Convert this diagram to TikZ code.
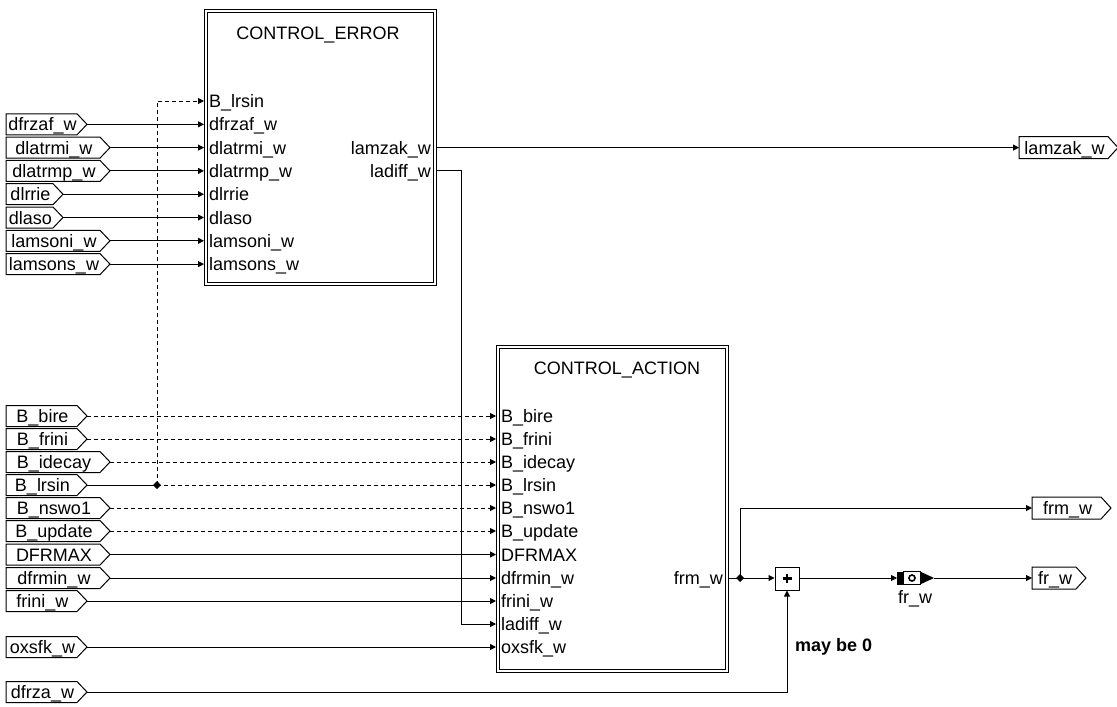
\documentclass[tikz,border=0pt]{standalone}
\usepackage{fontspec}
\setmainfont{Liberation Sans}
\usetikzlibrary{arrows.meta}
\tikzset{
  wire/.style={line width=1pt, -{Triangle[length=6pt,width=6pt]}},
  plainwire/.style={line width=1pt},
  dwire/.style={wire, dash pattern=on 4pt off 3pt},
  flagline/.style={draw, line width=1pt},
  lbl/.style={font=\fontsize{18}{20}\selectfont, inner sep=0pt, text height=13pt, text depth=0pt},
  blk/.style={draw, line width=1pt},
  jdot/.style={fill=black, draw=none},
}
\newcommand{\InFlag}[4]{% name, y, tipx, text
  \draw[flagline] (6,{#2-10.5}) -- ({#3-10},{#2-10.5}) -- (#3,#2) -- ({#3-10},{#2+10.5}) -- (6,{#2+10.5}) -- cycle;
  \node[lbl] (t#1) at ({(6+#3-10)/2+1},#2) {#4};
  \coordinate (#1) at (#3,#2);}
\newcommand{\OutFlag}[5]{% name, y, leftx, rectright, text
  \draw[flagline] (#3,{#2-11}) -- (#4,{#2-11}) -- ({#4+10},#2) -- (#4,{#2+11}) -- (#3,{#2+11}) -- cycle;
  \node[lbl] (t#1) at ({(#3+#4)/2+1},#2) {#5};
  \coordinate (#1) at (#3,#2);}
\begin{document}
\begin{tikzpicture}[x=1pt,y=-1pt]
\useasboundingbox (0,0) rectangle (1117,707);

% ---------- CONTROL_ERROR block
\draw[blk] (204,9) rectangle (436,285);
\draw[blk] (207,12) rectangle (433,282);
\node[lbl] (ceT) at (318,33) {CONTROL\_ERROR};
\foreach \n/\y/\s in {0/101/B\_lrsin,1/124.3/dfrzaf\_w,2/147.6/dlatrmi\_w,3/170.9/dlatrmp\_w,4/194.2/dlrrie,5/217.5/dlaso,6/240.8/lamsoni\_w,7/264.1/lamsons\_w}{
  \coordinate (ce\n) at (204,\y);
  \node[lbl, anchor=west] (cel\n) at (209,\y) {\s};
}
\node[lbl, anchor=east] (ceol1) at (431,147.6) {lamzak\_w};
\node[lbl, anchor=east] (ceol2) at (431,170.9) {ladiff\_w};
\coordinate (ceo1) at (436,147.6);
\coordinate (ceo2) at (436,170.9);

% ---------- CONTROL_ACTION block
\draw[blk] (496,345) rectangle (728,672);
\draw[blk] (499,348) rectangle (725,669);
\node[lbl] (caT) at (617,368) {CONTROL\_ACTION};
\foreach \n/\y/\s in {1/416/B\_bire,2/439/B\_frini,3/462/B\_idecay,4/485/B\_lrsin,5/508/B\_nswo1,6/531/B\_update,7/554.5/DFRMAX,8/578/dfrmin\_w,9/601/frini\_w,10/624/ladiff\_w,11/647/oxsfk\_w}{
  \coordinate (ca\n) at (496,\y);
  \node[lbl, anchor=west] (cal\n) at (501,\y) {\s};
}
\node[lbl, anchor=east] (caol) at (723,578) {frm\_w};
\coordinate (cao) at (728,578);

% ---------- input flags (upper)
\InFlag{ia1}{124.3}{87}{dfrzaf\_w}
\InFlag{ia2}{147.6}{110}{dlatrmi\_w}
\InFlag{ia3}{170.9}{110}{dlatrmp\_w}
\InFlag{ia4}{194.2}{63}{dlrrie}
\InFlag{ia5}{217.5}{63}{dlaso}
\InFlag{ia6}{240.8}{110}{lamsoni\_w}
\InFlag{ia7}{264.1}{110}{lamsons\_w}
% ---------- input flags (lower)
\InFlag{ib1}{416}{87}{B\_bire}
\InFlag{ib2}{439}{87}{B\_frini}
\InFlag{ib3}{462}{110}{B\_idecay}
\InFlag{ib4}{485}{87}{B\_lrsin}
\InFlag{ib5}{508}{110}{B\_nswo1}
\InFlag{ib6}{531}{110}{B\_update}
\InFlag{ib7}{554.5}{110}{DFRMAX}
\InFlag{ib8}{578}{110}{dfrmin\_w}
\InFlag{ib9}{601}{87}{frini\_w}
\InFlag{ib10}{647}{87}{oxsfk\_w}
\InFlag{ib11}{692}{87}{dfrza\_w}

% ---------- output flags
\OutFlag{olam}{147.6}{1019}{1108}{lamzak\_w}
\OutFlag{ofrm}{508}{1032}{1101}{frm\_w}
\OutFlag{ofr}{578}{1032}{1076}{fr\_w}

% ---------- upper connections
\foreach \i in {1,...,7}{ \draw[wire] (ia\i) -- (ce\i); }
% ---------- lower connections
\foreach \i in {1,2,3,5,6}{ \draw[dwire] (ib\i) -- (ca\i); }
\foreach \i in {7,8,9}{ \draw[wire] (ib\i) -- (ca\i); }
\draw[wire] (ib10) -- (ca11);
\coordinate (dotL) at (157,485);
\draw[plainwire] (ib4) -- (dotL);
\draw[dwire] (dotL) -- (ca4);
\draw[dwire] (dotL) |- (ce0);
\fill[jdot] (dotL) +(-4,0) -- +(0,-4) -- +(4,0) -- +(0,4) -- cycle;

% ---------- outputs of CONTROL_ERROR
\draw[wire] (ceo1) -- (olam);
\coordinate (ladc) at (461,170.9);
\draw[wire] (ceo2) -- (ladc) |- (ca10);

% ---------- output part
\coordinate (j1) at (740,578);
\node[blk, minimum width=24pt, minimum height=23pt, inner sep=0pt] (sum) at (787,578.5) {};
\draw[line width=2.2pt] ([xshift=-4.5pt]sum.center) -- ([xshift=4.5pt]sum.center);
\draw[line width=2.2pt] ([yshift=-4.5pt]sum.center) -- ([yshift=4.5pt]sum.center);
\draw[plainwire] (cao) -- (j1);
\draw[wire] (j1) -- (sum.west |- j1);
\draw[wire] (j1) |- (ofrm);
\fill[jdot] (j1) +(-4,0) -- +(0,-4) -- +(4,0) -- +(0,4) -- cycle;
% message icon
\coordinate (icL) at (897,578);
\coordinate (icR) at (934,578);
\fill (897,571.5) rectangle (903,584.5);
\draw[line width=1pt] (903,571.5) rectangle (920,584.5);
\draw[line width=1.6pt] (912,578) circle (3);
\fill (920,571.5) -- (934,578) -- (920,584.5) -- cycle;
\node[lbl] (icLbl) at (915,597) {fr\_w};
\draw[wire] (sum.east |- icL) -- (icL);
\draw[wire] (icR) -- (ofr);
\draw[wire] (ib11) -| (sum.south);
\node[lbl, anchor=west, font=\bfseries\fontsize{18}{20}\selectfont] (maybe) at (795,645) {may be 0};
\end{tikzpicture}
\end{document}
